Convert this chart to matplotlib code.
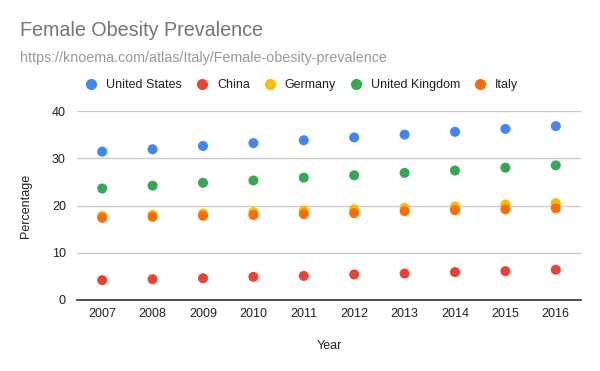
import matplotlib
matplotlib.use("Agg")
import matplotlib.pyplot as plt
from matplotlib.lines import Line2D

years = [2007, 2008, 2009, 2010, 2011, 2012, 2013, 2014, 2015, 2016]
united_states = [31.4, 31.9, 32.6, 33.2, 33.8, 34.4, 35.0, 35.6, 36.2, 36.8]
china = [4.2, 4.4, 4.6, 4.9, 5.1, 5.4, 5.6, 5.9, 6.1, 6.4]
germany = [17.8, 18.0, 18.3, 18.6, 18.9, 19.2, 19.5, 19.8, 20.2, 20.5]
united_kingdom = [23.6, 24.2, 24.8, 25.3, 25.9, 26.4, 26.9, 27.4, 28.0, 28.5]
italy = [17.4, 17.6, 17.8, 18.0, 18.2, 18.4, 18.8, 19.0, 19.2, 19.4]

series_names = ["United States", "China", "Germany", "United Kingdom", "Italy"]
series_values = [united_states, china, germany, united_kingdom, italy]
colors = ["#4285F4", "#EA4335", "#FBBC04", "#34A853", "#FF6D01"]
yticks = [0, 10, 20, 30, 40]

plt.rcParams['font.family'] = ['Arial', 'Liberation Sans', 'DejaVu Sans']

fig = plt.figure(figsize=(6.0, 3.71), dpi=100)
W, H = 600, 371
ax = fig.add_axes([77 / W, 1 - 300 / H, (581 - 77) / W, (300 - 111) / H])

for name, vals, c in zip(series_names, series_values, colors):
    ax.scatter(years, vals, s=52, color=c, edgecolors='none', zorder=3, label=name)

ax.set_xlim(2006.5, 2016.5)
ax.set_ylim(0, 40)
ax.set_yticks(yticks)
ax.set_xticks(years)
ax.set_xticklabels([str(y) for y in years])
ax.grid(axis='y', color='#cccccc', linewidth=1)
ax.set_axisbelow(True)
for s in ['top', 'right', 'left']:
    ax.spines[s].set_visible(False)
ax.spines['bottom'].set_color('#333333')
ax.spines['bottom'].set_linewidth(1.2)
ax.spines['bottom'].set_zorder(4)
ax.tick_params(axis='both', length=0, labelsize=9, colors='#222222')
ax.tick_params(axis='y', pad=8)
ax.tick_params(axis='x', pad=6)

ax.set_xlabel('Year', fontsize=9, color='#222222', labelpad=14)
ax.set_ylabel('Percentage', fontsize=9, color='#222222', labelpad=14)

fig.text(20 / W, 1 - 31 / H, 'Female Obesity Prevalence', fontsize=14.2, color='#757575',
         va='center', ha='left')
fig.text(20 / W, 1 - 58 / H, 'https://knoema.com/atlas/Italy/Female-obesity-prevalence',
         fontsize=10.3, color='#999999', va='center', ha='left')

handles = [Line2D([0], [0], marker='o', linestyle='none', markersize=8,
                  markerfacecolor=c, markeredgecolor='none') for c in colors]
fig.legend(handles, series_names, loc='center', bbox_to_anchor=(301 / W, 1 - 85 / H),
           ncol=5, frameon=False, fontsize=9, handletextpad=0.6, columnspacing=1.0,
           handlelength=1.2, labelcolor='#222222', borderpad=0, borderaxespad=0)

fig.savefig('out.png', dpi=100)
